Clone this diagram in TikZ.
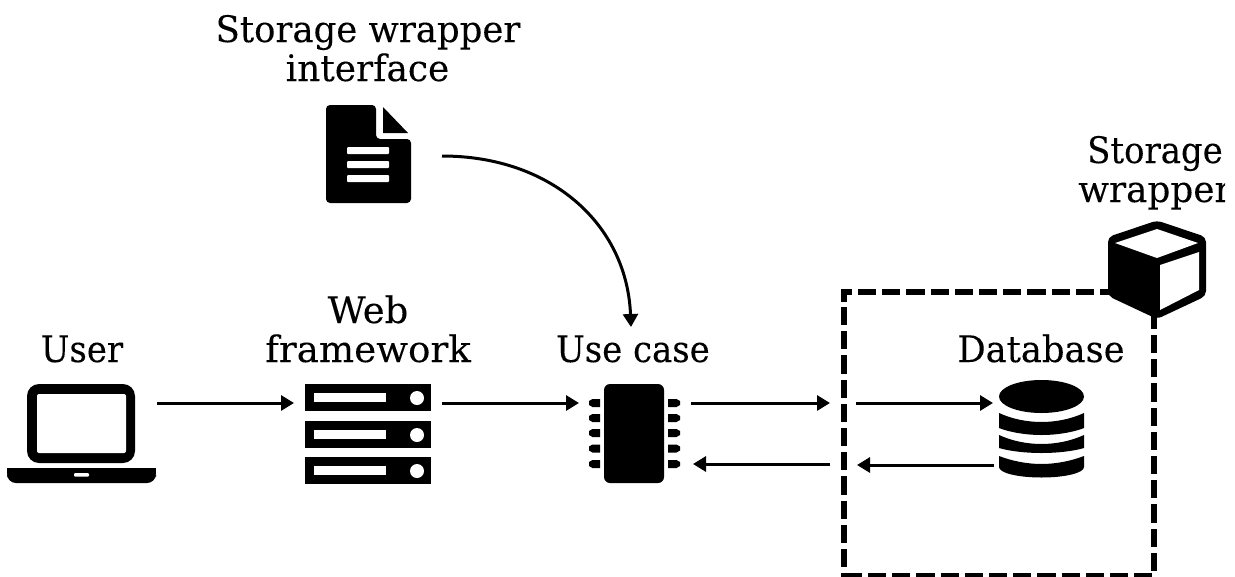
\documentclass[tikz,border=0pt]{standalone}
\usepackage{fontspec}
\setmainfont{DejaVu Serif}[FakeStretch=0.93,FakeBold=0.12]
\usetikzlibrary{arrows.meta}
\newcommand{\sx}[2]{\scalebox{#1}[1]{#2}}
\tikzset{
  lbl/.style={anchor=base,inner sep=0pt,font=\fontsize{36.5}{38}\selectfont},
  conn/.style={line width=3pt,-{Triangle[length=13pt,width=15pt]}},
  dashbox/.style={line width=6pt,dash pattern=on 18.2pt off 6pt},
  cornerbox/.style={line width=6pt},
  fillk/.style={fill=black,draw=none},
  fillw/.style={fill=white,draw=none}
}
\begin{document}
\begin{tikzpicture}[x=1pt,y=-1pt]
\useasboundingbox (0,0) rectangle (1235,576);
% labels
\node[lbl] (t1) at (368,42) {\sx{1.045}{Storage wrapper}};
\node[lbl] (t2) at (367.5,81) {\sx{1.058}{interface}};
\node[lbl] (user) at (82,362) {User};
\node[lbl] (web) at (368,323) {\sx{1.09}{Web}};
\node[lbl] (fw) at (368,362) {\sx{1.096}{framework}};
\node[lbl] (uc) at (633,362) {Use case};
\node[lbl] (dbl) at (1041,362) {\sx{1.04}{Database}};
\node[lbl] (sw1) at (1155,163) {Storage};
\begin{scope}
\clip (1000,170) rectangle (1225,230);
\node[lbl] (sw2) at (1155,202) {\sx{1.055}{wrapper}};
\end{scope}
% document icon
\fill[fillk,rounded corners=4pt] (326,105) -- (376,105) -- (376,139) -- (411,139) -- (411,203) -- (326,203) -- cycle;
\fill[fillk] (383,107) -- (383,133) -- (408,133) -- cycle;
\foreach \y in {147,161,175}{\fill[fillw,rounded corners=1pt] (347,\y) rectangle (389,\y+7);}
% laptop
\fill[fillk,rounded corners=12pt] (27,384) rectangle (135,463);
\fill[fillw,rounded corners=2pt] (37,394) rectangle (126,453);
\fill[fillk,rounded corners=9pt] (7,468) -- (7,483) -- (156,483) -- (156,468) -- cycle;
\fill[fillk] (7,468) rectangle (156,474);
\fill[fillw,rounded corners=1pt] (74,473) rectangle (89,476.5);
% servers
\foreach \y in {384,421,457}{
  \fill[fillk] (305,\y) rectangle (431,\y+27);
  \fill[fillw] (314,\y+9) rectangle (386,\y+18);
  \fill[fillw] (417,\y+14) circle (7);
}
% chip
\fill[fillk,rounded corners=6pt] (604,384) rectangle (664,483);
\foreach \y in {403,418,433,448.5,464}{
  \fill[fillk] (600,\y-4) -- (592.5,\y-4) -- (589,\y-2) -- (589,\y+2) -- (592.5,\y+4) -- (600,\y+4) -- cycle;
  \fill[fillk] (668,\y-4) -- (676.5,\y-4) -- (680,\y-2) -- (680,\y+2) -- (676.5,\y+4) -- (668,\y+4) -- cycle;
}
% database
\fill[fillk] (1041.5,396.5) ellipse (42.5 and 16.5);
\fill[fillk] (999,413) .. controls (1012,419) and (1027,422) .. (1041.5,422) .. controls (1056,422) and (1071,419) .. (1084,413) -- (1084,428) .. controls (1074,432) and (1058,435) .. (1041.5,435) .. controls (1025,435) and (1009,432) .. (999,428) -- cycle;
\fill[fillk] (999,435) .. controls (1012,441) and (1027,444) .. (1041.5,444) .. controls (1056,444) and (1071,441) .. (1084,435) -- (1084,448) .. controls (1074,451) and (1058,453) .. (1041.5,453) .. controls (1025,453) and (1009,451) .. (999,448) -- cycle;
\fill[fillk] (999,456) .. controls (1012,461) and (1027,464) .. (1041.5,464) .. controls (1056,464) and (1071,461) .. (1084,456) -- (1084,467) .. controls (1084,473) and (1065,477.5) .. (1041.5,477.5) .. controls (1018,477.5) and (999,473) .. (999,467) -- cycle;
% dashed box
\coordinate (tl) at (844,291.5);
\coordinate (bl) at (844,576);
\coordinate (br) at (1154,576);
\draw[dashbox] (858,291.5) -- (1112,291.5);
\draw[cornerbox] (852,291.5) -- (tl) -- (844,302);
\draw[dashbox] (844,307) -- (844,568);
\draw[cornerbox] (844,573) -- (bl) -- (862,576);
\draw[dashbox] (868,576) -- (1153,576);
\draw[dashbox] (1154,571) -- (1154,310);
% cube
\fill[fillk,rounded corners=5pt] (1157,220.5) -- (1206,237) -- (1206,296) -- (1157,319) -- (1108,296) -- (1108,237) -- cycle;
\fill[fillw] (1115,243) -- (1157,229) -- (1198,243) -- (1157,258) -- cycle;
\fill[fillw] (1160,265) -- (1199,252) -- (1199,290) -- (1160,310) -- cycle;
% connector anchors
\coordinate (a1) at (157,403); \coordinate (a2) at (294,403);
\coordinate (b1) at (442,403); \coordinate (b2) at (579,403);
\coordinate (c1) at (691,403); \coordinate (c2) at (830,403);
\coordinate (d1) at (830,464); \coordinate (d2) at (693,464);
\coordinate (e1) at (856,403); \coordinate (e2) at (993,403);
\coordinate (f1) at (994,465); \coordinate (f2) at (857,465);
\coordinate (g1) at (442,156); \coordinate (g2) at (631,327);
\draw[conn] (a1) -- (a2);
\draw[conn] (b1) -- (b2);
\draw[conn] (c1) -- (c2);
\draw[conn] (d1) -- (d2);
\draw[conn] (e1) -- (e2);
\draw[conn] (f1) -- (f2);
\draw[conn] (g1) .. controls (552,156) and (627,225) .. (g2);
\end{tikzpicture}
\end{document}
